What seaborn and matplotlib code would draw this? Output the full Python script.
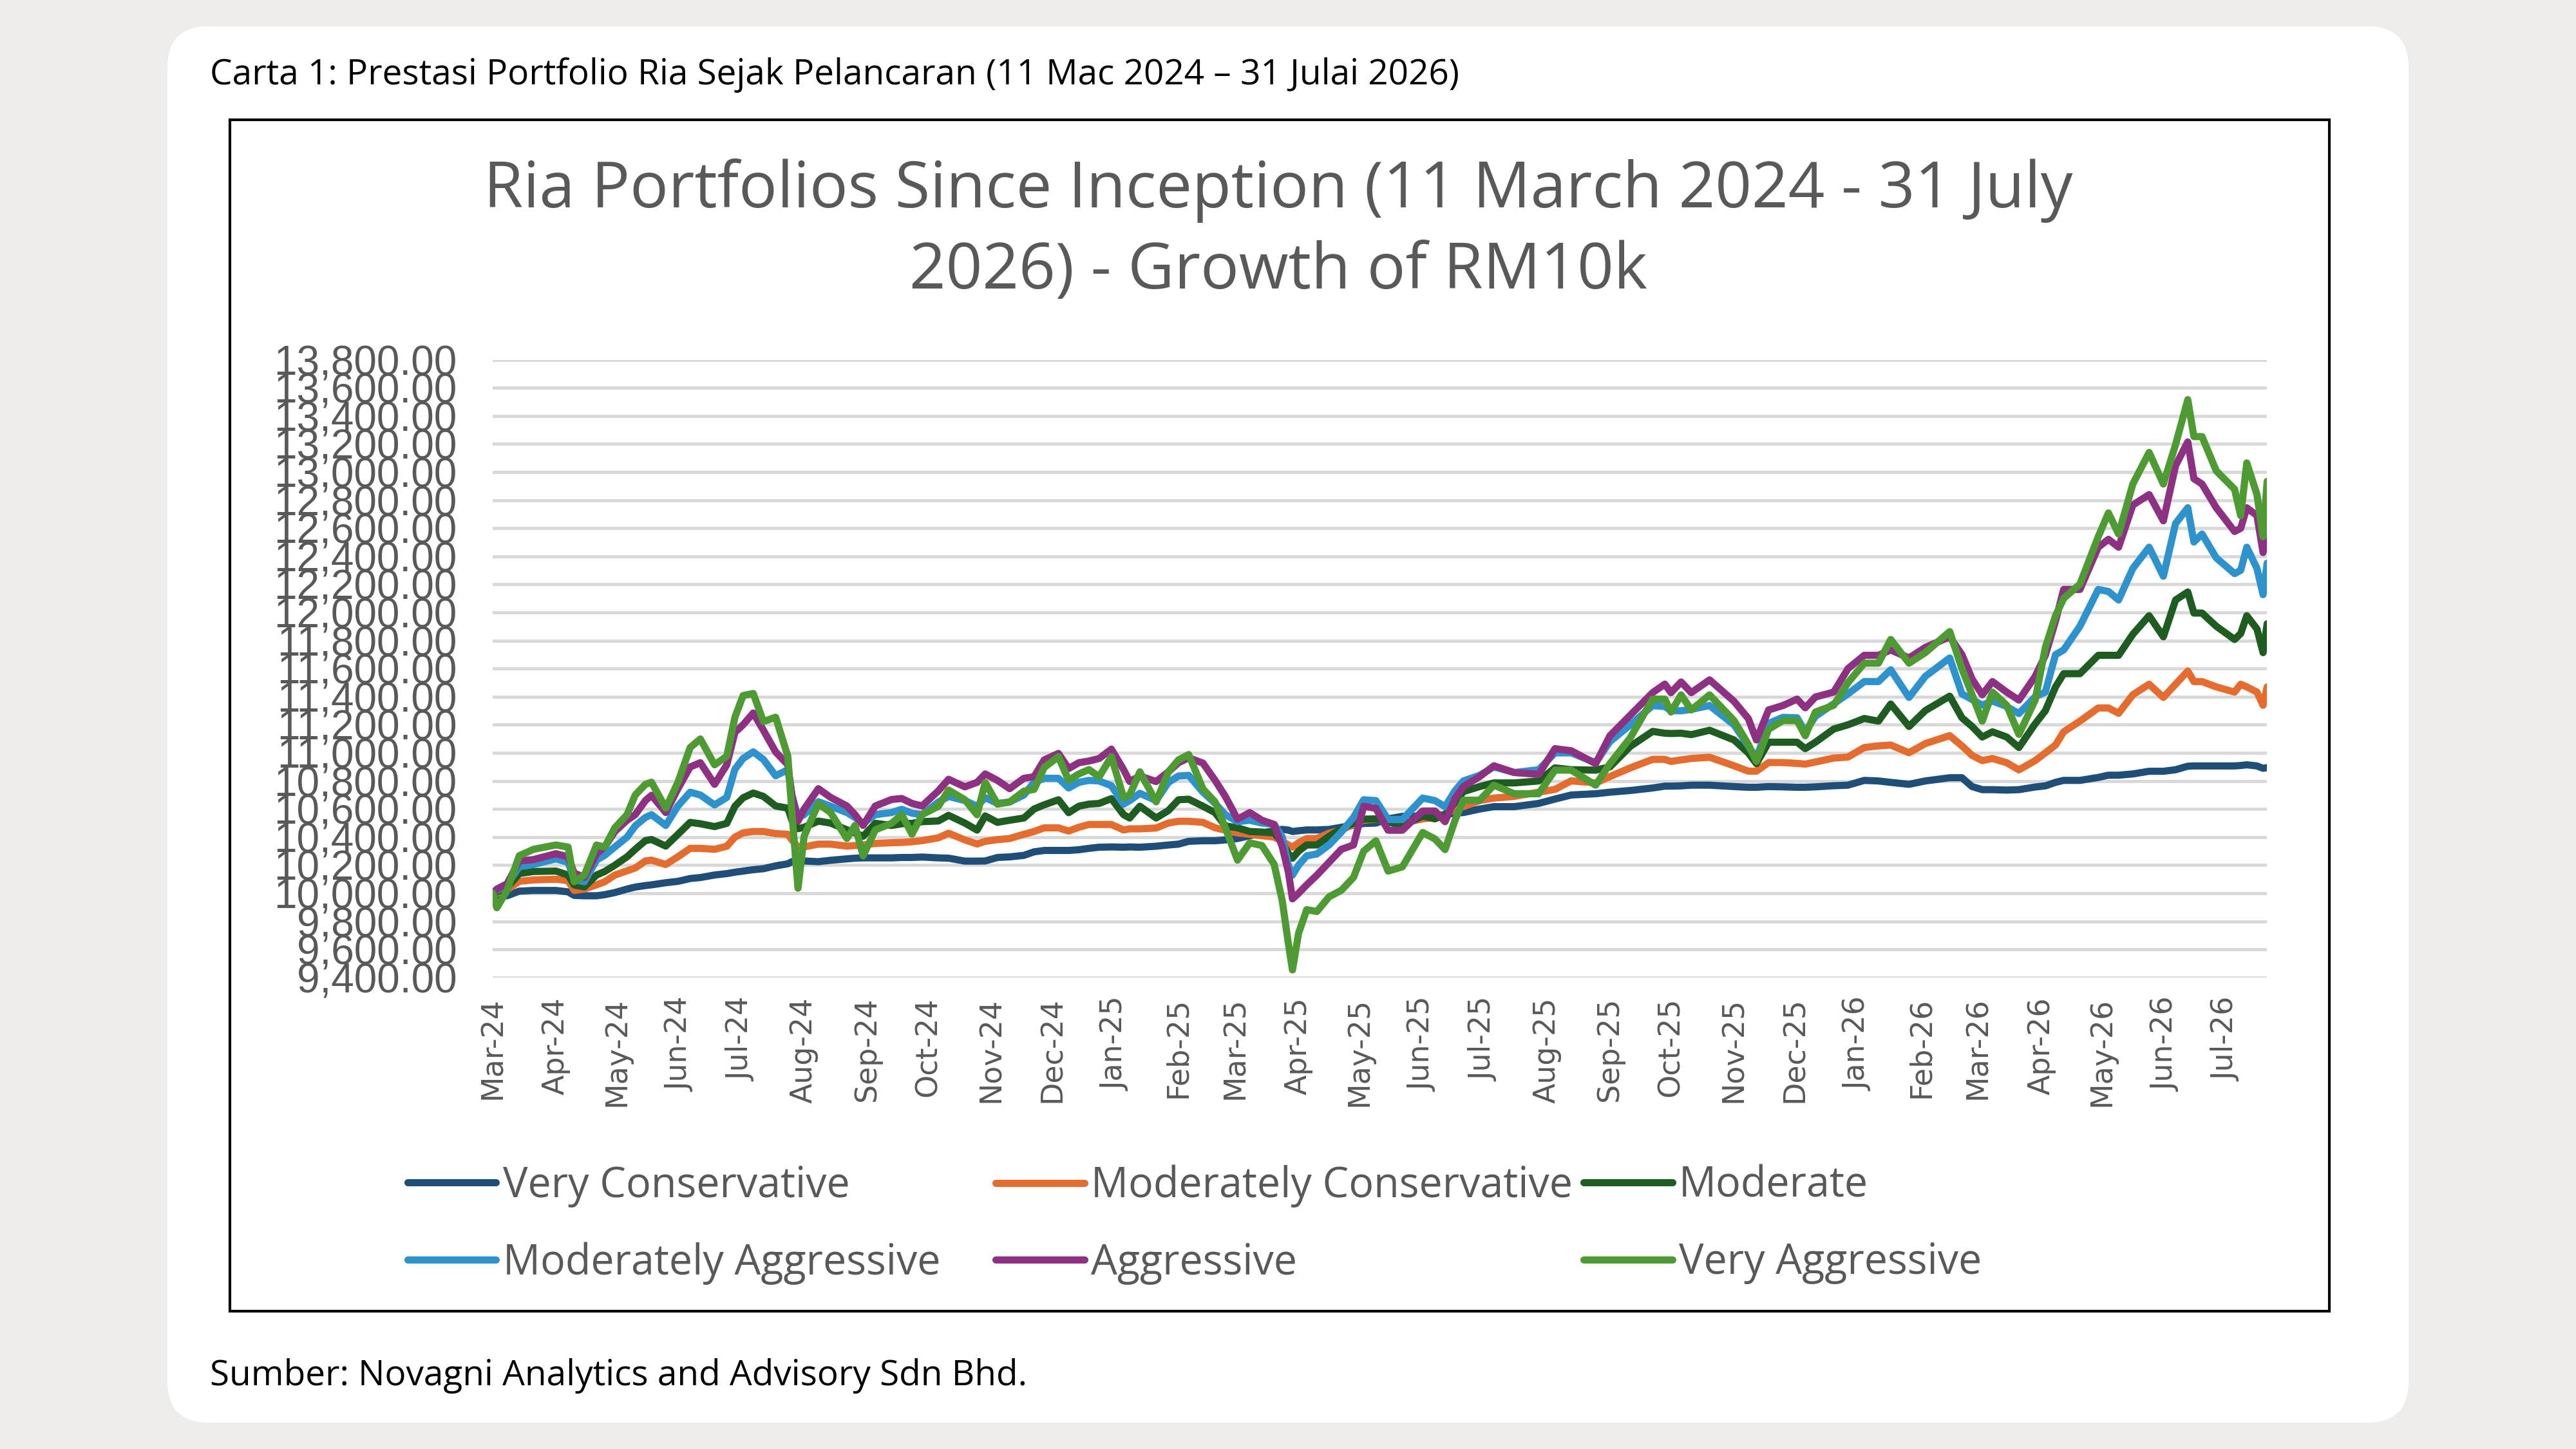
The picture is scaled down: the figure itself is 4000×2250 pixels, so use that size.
import pandas as pd
import matplotlib
matplotlib.use("Agg")
import matplotlib.pyplot as plt
import matplotlib.dates as mdates
from matplotlib.patches import FancyBboxPatch, Rectangle
from matplotlib.lines import Line2D
from matplotlib.ticker import FuncFormatter
import seaborn as sns

# -----------------------------
# Theme
# -----------------------------
sns.set_theme(style="white")
plt.rcParams["font.family"] = ["Open Sans", "DejaVu Sans"]

TEXT_GREY = "#595959"
START = pd.Timestamp("2024-03-11")
END = pd.Timestamp("2026-07-31")

# -----------------------------
# Data (RM value of a 10k investment)
# -----------------------------
days_since_start = [
    0, 2, 7, 13, 20, 31, 37, 40, 45, 51, 55, 60, 66, 70, 75, 78, 85, 91, 97, 102,
    109, 115, 119, 123, 128, 133, 139, 145, 147, 150, 153, 160, 166, 174, 178, 182, 188, 196, 201, 206,
    211,
    219, 224, 232, 238, 242, 248, 254, 261, 266, 271, 278, 283, 288, 293, 298, 304, 310, 313, 318, 326,
    332, 337, 342, 349, 355, 360, 366, 372, 378, 384, 388, 391, 393, 396, 400, 405, 411, 417, 423, 428,
    434,
    440, 447, 457, 463, 468, 473, 477, 485, 492, 502, 514, 522, 530, 542, 549, 559, 570, 576, 579, 584,
    589, 598, 610, 617, 621, 627, 634, 641, 645, 650,
    659, 666, 674, 681, 687, 696, 704, 716, 722, 727, 732, 737, 744, 750, 758, 763, 768, 772, 780, 789,
    794, 799, 806, 814, 821, 827, 833, 836, 840, 847, 856, 859, 862, 867, 870, 872,
]

very_conservative = [
    10000, 9985, 9982, 10015, 10020, 10020, 10010, 9985, 9982, 9982, 9990, 10005, 10030, 10044, 10055, 10060, 10075, 10085, 10105, 10112,
    10130, 10140, 10150, 10158, 10168, 10175, 10195, 10210, 10225, 10236, 10230, 10225, 10235, 10245, 10250, 10252, 10252, 10252, 10255, 10255,
    10258,
    10252, 10250, 10229, 10229, 10230, 10255, 10259, 10270, 10295, 10305, 10305, 10305, 10310, 10320, 10328, 10330, 10328, 10330, 10328, 10335,
    10344, 10350, 10370, 10374, 10374, 10380, 10390, 10410, 10430, 10445, 10455, 10450, 10440, 10445, 10451, 10451, 10455, 10470, 10485, 10497,
    10500,
    10530, 10548, 10550, 10555, 10560, 10571, 10575, 10600, 10617, 10617, 10640, 10671, 10700, 10709, 10720, 10732, 10750, 10763, 10763, 10765,
    10770, 10770, 10760, 10755, 10755, 10760, 10758, 10755, 10755, 10758,
    10766, 10770, 10804, 10800, 10790, 10776, 10800, 10823, 10823, 10760, 10738, 10738, 10735, 10738, 10757, 10765, 10790, 10804, 10804, 10825,
    10841, 10841, 10850, 10869, 10869, 10880, 10905, 10907, 10907, 10907, 10907, 10910, 10915, 10907, 10890, 10895,
]

moderately_conservative = [
    10000, 10000, 10025, 10085, 10095, 10100, 10090, 10020, 10030, 10060, 10082, 10130, 10160, 10180, 10230, 10236, 10205, 10260, 10320, 10320,
    10313, 10335, 10400, 10430, 10440, 10440, 10425, 10420, 10380, 10330, 10330, 10350, 10350, 10336, 10340, 10344, 10355, 10360, 10362, 10367,
    10375,
    10395, 10428, 10380, 10351, 10370, 10382, 10390, 10420, 10440, 10466, 10466, 10443, 10470, 10490, 10490, 10490, 10451, 10459, 10459, 10465,
    10500, 10513, 10513, 10505, 10466, 10450, 10430, 10420, 10410, 10400, 10370, 10344, 10328, 10360, 10390, 10390, 10428, 10450, 10490, 10520,
    10528,
    10510, 10500, 10530, 10540, 10560, 10600, 10617, 10660, 10678, 10690, 10720, 10740, 10801, 10786, 10831, 10893, 10954, 10954, 10939, 10950,
    10960, 10969, 10908, 10870, 10870, 10931, 10931, 10925, 10920, 10935,
    10963, 10970, 11038, 11050, 11056, 11001, 11066, 11123, 11050, 10982, 10945, 10960, 10930, 10879, 10945, 11000, 11056, 11150, 11226, 11320,
    11320, 11282, 11414, 11489, 11395, 11489, 11583, 11508, 11508, 11470, 11433, 11489, 11470, 11433, 11339, 11470,
]

moderate = [
    10000, 10010, 10040, 10140, 10155, 10158, 10130, 10059, 10045, 10130, 10155, 10200, 10260, 10313, 10375, 10383, 10336, 10420, 10505, 10495,
    10475, 10498, 10620, 10680, 10714, 10690, 10622, 10606, 10520, 10460, 10470, 10514, 10500, 10452, 10430, 10406, 10498, 10483, 10495, 10498,
    10510,
    10515, 10555, 10500, 10450, 10551, 10505, 10520, 10536, 10600, 10630, 10666, 10574, 10620, 10635, 10640, 10674, 10560, 10536, 10620, 10536,
    10589, 10666, 10670, 10620, 10574, 10480, 10466, 10440, 10436, 10430, 10360, 10282, 10250, 10300, 10344, 10344, 10405, 10460, 10500, 10528,
    10530,
    10510, 10480, 10550, 10530, 10560, 10650, 10724, 10760, 10786, 10786, 10800, 10893, 10880, 10877, 10900, 11046, 11153, 11140, 11138, 11140,
    11130, 11161, 11092, 11000, 10923, 11076, 11076, 11076, 11030, 11076,
    11170, 11200, 11245, 11226, 11348, 11188, 11301, 11404, 11250, 11188, 11113, 11150, 11113, 11038, 11207, 11300, 11470, 11564, 11564, 11695,
    11695, 11695, 11845, 11977, 11827, 12089, 12146, 11996, 11996, 11902, 11808, 11850, 11977, 11883, 11714, 11920,
]

moderately_aggressive = [
    10000, 10020, 10060, 10190, 10205, 10245, 10220, 10098, 10082, 10236, 10270, 10330, 10400, 10480, 10540, 10560, 10483, 10622, 10720, 10700,
    10629, 10683, 10884, 10960, 11007, 10953, 10837, 10880, 10700, 10540, 10560, 10652, 10620, 10575, 10540, 10498, 10560, 10575, 10598, 10570,
    10560,
    10650, 10690, 10660, 10620, 10681, 10640, 10650, 10700, 10790, 10819, 10819, 10750, 10790, 10804, 10800, 10766, 10635, 10660, 10712, 10660,
    10789, 10835, 10840, 10720, 10640, 10560, 10510, 10520, 10500, 10490, 10400, 10200, 10129, 10200, 10267, 10280, 10344, 10436, 10540, 10666,
    10660,
    10525, 10525, 10678, 10660, 10617, 10732, 10800, 10840, 10900, 10860, 10880, 11000, 11000, 10930, 11080, 11200, 11337, 11330, 11300, 11300,
    11310, 11337, 11200, 11050, 10960, 11210, 11253, 11250, 11150, 11260,
    11350, 11420, 11508, 11508, 11592, 11395, 11545, 11676, 11420, 11380, 11340, 11370, 11330, 11280, 11400, 11433, 11700, 11733, 11902, 12164,
    12150, 12089, 12314, 12465, 12258, 12634, 12746, 12502, 12559, 12389, 12277, 12300, 12465, 12314, 12127, 12352,
]

aggressive = [
    10000, 10030, 10067, 10230, 10240, 10282, 10260, 10144, 10113, 10282, 10330, 10440, 10520, 10560, 10660, 10698, 10575, 10745, 10900, 10930,
    10776, 10915, 11146, 11200, 11284, 11161, 11007, 10915, 10698, 10514, 10600, 10745, 10683, 10622, 10560, 10483, 10622, 10668, 10675, 10640,
    10622,
    10730, 10812, 10758, 10790, 10850, 10804, 10745, 10819, 10830, 10950, 10996, 10888, 10930, 10942, 10960, 11027, 10881, 10796, 10835, 10796,
    10865, 10930, 10965, 10927, 10804, 10690, 10528, 10575, 10520, 10490, 10330, 10150, 9960, 10000, 10060, 10129, 10221, 10313, 10344, 10620,
    10605,
    10449, 10449, 10586, 10586, 10510, 10678, 10760, 10831, 10908, 10860, 10847, 11030, 11015, 10923, 11122, 11268, 11429, 11490, 11429, 11505,
    11429, 11520, 11367, 11245, 11092, 11306, 11337, 11383, 11321, 11398,
    11433, 11600, 11695, 11695, 11733, 11676, 11751, 11827, 11700, 11526, 11414, 11508, 11433, 11376, 11545, 11695, 11939, 12164, 12164, 12465,
    12521, 12465, 12765, 12840, 12653, 13046, 13215, 12953, 12915, 12746, 12577, 12600, 12746, 12690, 12427, 12577,
]

very_aggressive = [
    10000, 9897, 10020, 10267, 10313, 10344, 10329, 10082, 10129, 10344, 10329, 10467, 10560, 10700, 10776, 10791, 10606, 10791, 11038, 11099,
    10915, 10976, 11254, 11408, 11423, 11223, 11254, 10976, 10575, 10036, 10406, 10637, 10575, 10390, 10483, 10267, 10452, 10498, 10560, 10421,
    10560,
    10620, 10735, 10666, 10559, 10789, 10635, 10650, 10727, 10740, 10896, 10973, 10804, 10850, 10881, 10830, 10973, 10681, 10700, 10865, 10651,
    10865, 10950, 10988, 10743, 10650, 10466, 10236, 10359, 10340, 10206, 9945, 9640, 9454, 9715, 9883, 9870, 9975, 10021, 10113, 10300,
    10374,
    10158, 10188, 10433, 10387, 10311, 10525, 10663, 10663, 10770, 10709, 10709, 10877, 10877, 10770, 10923, 11107, 11383, 11383, 11291, 11413,
    11306, 11413, 11230, 11061, 10939, 11168, 11230, 11230, 11122, 11291,
    11339, 11500, 11639, 11639, 11808, 11639, 11714, 11864, 11600, 11414, 11226, 11433, 11339, 11132, 11376, 11751, 11977, 12100, 12202, 12540,
    12709, 12559, 12915, 13140, 12915, 13196, 13516, 13253, 13253, 13009, 12878, 12690, 13065, 12840, 12540, 12934,
]

series_names = [
    "Very Conservative", "Moderately Conservative", "Moderate",
    "Moderately Aggressive", "Aggressive", "Very Aggressive",
]
series_colors = ["#1F4E79", "#E46C2F", "#1E5C22", "#2E92CD", "#8E3183", "#4E9A33"]

# -----------------------------
# Long-form frame
# -----------------------------
wide = pd.DataFrame({
    "date": START + pd.to_timedelta(days_since_start, unit="D"),
    "Very Conservative": very_conservative,
    "Moderately Conservative": moderately_conservative,
    "Moderate": moderate,
    "Moderately Aggressive": moderately_aggressive,
    "Aggressive": aggressive,
    "Very Aggressive": very_aggressive,
})
df = wide.melt(id_vars="date", var_name="portfolio", value_name="value")

# -----------------------------
# Figure & card background
# -----------------------------
fig = plt.figure(figsize=(40, 22.5), dpi=100, facecolor="#EEEDEB")
card = FancyBboxPatch((2.60, 0.41), 34.80, 21.68,
                      boxstyle="round,pad=0,rounding_size=0.64",
                      transform=fig.dpi_scale_trans, facecolor="white",
                      edgecolor="none", zorder=-2)
fig.add_artist(card)
frame = Rectangle((0.0893, 0.0952), 0.815, 0.822, transform=fig.transFigure,
                  fill=False, edgecolor="black", linewidth=3, zorder=-1)
fig.add_artist(frame)

fig.text(0.0816, 0.948,
         "Carta 1: Prestasi Portfolio Ria Sejak Pelancaran (11 Mac 2024 \u2013 31 Julai 2026)",
         fontsize=39.5, color="black", ha="left", va="center")
fig.text(0.0816, 0.0505, "Sumber: Novagni Analytics and Advisory Sdn Bhd.",
         fontsize=39.5, color="black", ha="left", va="center")

fig.text(0.4962, 0.8685, "Ria Portfolios Since Inception (11 March 2024 - 31 July",
         fontsize=71.5, color=TEXT_GREY, ha="center", va="center")
fig.text(0.4962, 0.8125, "2026) - Growth of RM10k",
         fontsize=71.5, color=TEXT_GREY, ha="center", va="center")

# -----------------------------
# Plot
# -----------------------------
ax = fig.add_axes([0.1913, 0.3254, 0.6888, 0.4263])
ax.set_facecolor("none")
sns.lineplot(data=df, x="date", y="value", hue="portfolio", hue_order=series_names,
             palette=series_colors, linewidth=8, estimator=None, legend=False, ax=ax)

ax.set_xlim(START, END)
ax.set_ylim(9400, 13800)
ax.set_yticks(range(9400, 13801, 200))
ax.yaxis.set_major_formatter(FuncFormatter(lambda v, _: f"{v:,.2f}"))
ax.set_xticks(pd.date_range(START, periods=29, freq=pd.DateOffset(months=1)))
ax.xaxis.set_major_formatter(mdates.DateFormatter("%b-%y"))
ax.set_xlabel("")
ax.set_ylabel("")

ax.yaxis.grid(True, color="#D9D9D9", linewidth=3.5)
ax.xaxis.grid(False)
ax.set_axisbelow(True)
for s in ax.spines.values():
    s.set_visible(False)

ax.tick_params(axis="y", length=0, pad=40, labelsize=46, labelcolor=TEXT_GREY)
ax.tick_params(axis="x", length=0, pad=22, labelsize=33, labelcolor=TEXT_GREY, rotation=90)
for lab in ax.get_yticklabels():
    lab.set_fontfamily(["Liberation Sans", "DejaVu Sans"])
for lab in ax.get_xticklabels():
    lab.set_fontfamily(["DejaVu Sans"])

# -----------------------------
# Legend: three columns placed where the reference puts them
# -----------------------------
legend_columns = [(0, 3), (1, 4), (2, 5)]
legend_x = [0.1582, 0.3865, 0.6148]
for (i_top, i_bot), x in zip(legend_columns, legend_x):
    handles = [Line2D([0], [0], color=series_colors[i], linewidth=8) for i in (i_top, i_bot)]
    fig.legend(handles, [series_names[i_top], series_names[i_bot]], ncol=1,
               loc="upper left", bbox_to_anchor=(x, 0.1961), frameon=False,
               fontsize=46.5, labelcolor=TEXT_GREY, handlelength=2.13,
               handletextpad=0.16, labelspacing=0.83, borderpad=0, borderaxespad=0)

fig.savefig("out.png", dpi=100, facecolor=fig.get_facecolor())
